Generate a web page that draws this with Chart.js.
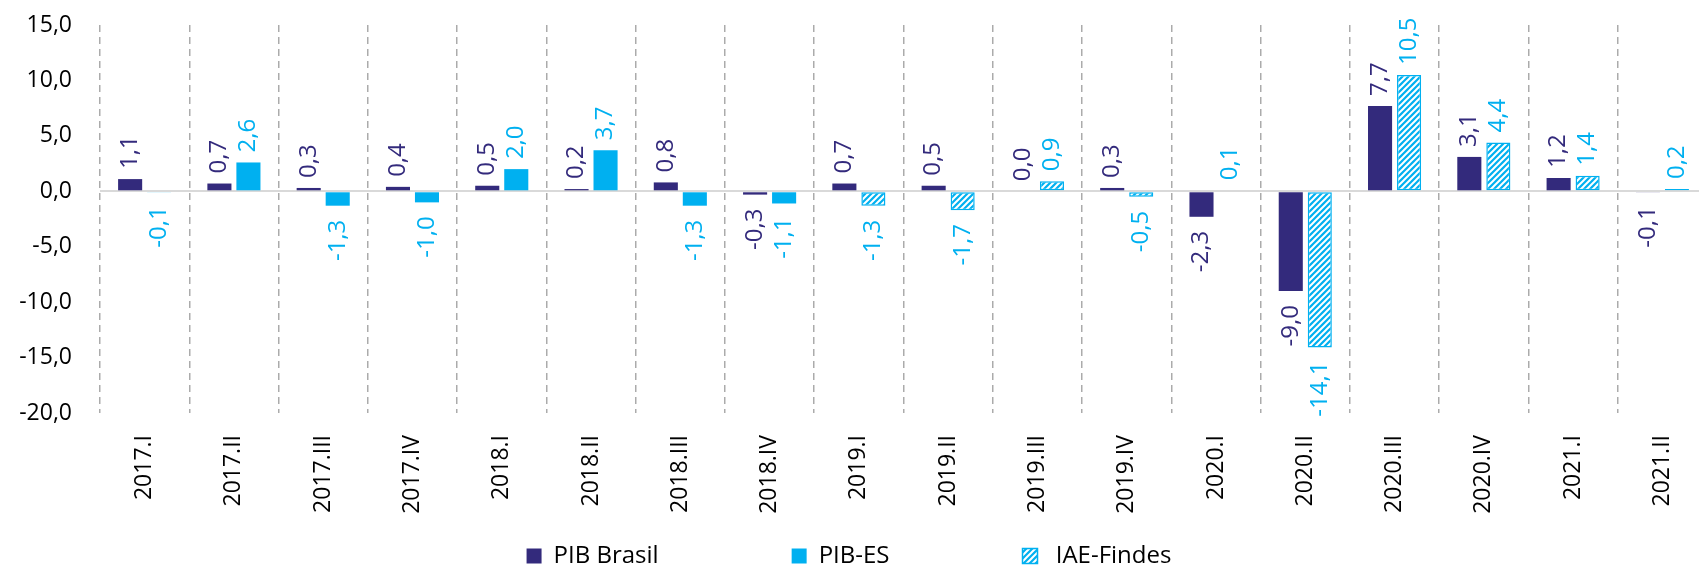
<!DOCTYPE html>
<html lang="pt-BR">
<head>
<meta charset="utf-8">
<title>PIB Brasil, PIB-ES e IAE-Findes</title>
<script src="https://cdn.jsdelivr.net/npm/chart.js@4.4.1/dist/chart.umd.min.js"></script>
<style>
  html, body { margin: 0; padding: 0; background: #fff; overflow: hidden; }
</style>
</head>
<body>
<canvas id="grafico" width="1712" height="570"></canvas>
<script>
// Dados (variação trimestral, %)
const trimestres = ["2017.I", "2017.II", "2017.III", "2017.IV", "2018.I", "2018.II", "2018.III", "2018.IV",
  "2019.I", "2019.II", "2019.III", "2019.IV", "2020.I", "2020.II", "2020.III", "2020.IV", "2021.I", "2021.II"];
const pibBrasil = [1.1, 0.7, 0.3, 0.4, 0.5, 0.2, 0.8, -0.3, 0.7, 0.5, 0.0, 0.3, -2.3, -9.0, 7.7, 3.1, 1.2, -0.1];
const pibES     = [-0.1, 2.6, -1.3, -1.0, 2.0, 3.7, -1.3, -1.1, null, null, null, null, null, null, null, null, null, null];
const iaeFindes = [null, null, null, null, null, null, null, null, -1.3, -1.7, 0.9, -0.5, 0.1, -14.1, 10.5, 4.4, 1.4, 0.2];
const eixoY = { min: -20, max: 15, passo: 5 };

const AZUL_ESCURO = "#332A7C";
const AZUL_CLARO  = "#00B0F0";
const FONTE = '"Open Sans", "Noto Sans", sans-serif';

// formato brasileiro: 1,1 / -0,3
function formatar(v) {
  return Number(v).toFixed(1).replace(".", ",");
}

// hachura diagonal branca sobre azul claro
function criarHachura() {
  const c = document.createElement("canvas");
  c.width = 6; c.height = 6;
  const g = c.getContext("2d");
  g.fillStyle = AZUL_CLARO;
  g.fillRect(0, 0, 6, 6);
  g.strokeStyle = "#fff";
  g.lineWidth = 2;
  g.beginPath();
  g.moveTo(-1, 7); g.lineTo(7, -1);
  g.moveTo(-4, 4); g.lineTo(4, -4);
  g.moveTo(2, 10); g.lineTo(10, 2);
  g.stroke();
  return g.createPattern(c, "repeat");
}

// rótulos de valor girados, acima/abaixo de cada barra
const rotulosPlugin = {
  id: "rotulos",
  afterDatasetsDraw(chart) {
    const ctx = chart.ctx;
    chart.data.datasets.forEach((ds, i) => {
      const meta = chart.getDatasetMeta(i);
      meta.data.forEach((barra, j) => {
        const v = ds.data[j];
        if (v === null || v === undefined) return;
        const p = barra.getProps(["x", "y", "base"], true);
        const negativo = v < 0;
        const y = negativo ? Math.max(p.y, p.base) + 14 : Math.min(p.y, p.base) - 10;
        ctx.save();
        ctx.font = "24px " + FONTE;
        ctx.fillStyle = ds.corRotulo;
        ctx.textBaseline = "middle";
        ctx.textAlign = negativo ? "right" : "left";
        ctx.translate(p.x, y);
        ctx.rotate(-Math.PI / 2);
        ctx.fillText(formatar(v), 0, 0);
        ctx.restore();
      });
    });
  }
};

// posiciona a legenda como no original
const LEGENDA_PADDING = 133;
const LEGENDA_FONTE = 24;
const legendaPlugin = {
  id: "legendaPos",
  afterLayout(chart) {
    const leg = chart.legend;
    const dx = -7;
    leg.left += dx; leg.right += dx;
    leg.top = 556 - LEGENDA_FONTE / 2 - LEGENDA_PADDING;
    leg.bottom = chart.height;
  }
};

new Chart(document.getElementById("grafico"), {
  type: "bar",
  data: {
    labels: trimestres,
    datasets: [
      {
        label: "PIB Brasil",
        data: pibBrasil,
        stack: "br",
        backgroundColor: AZUL_ESCURO,
        borderColor: AZUL_ESCURO,
        borderWidth: 0,
        corRotulo: AZUL_ESCURO
      },
      {
        label: "PIB-ES",
        data: pibES,
        stack: "es",
        backgroundColor: AZUL_CLARO,
        borderColor: AZUL_CLARO,
        borderWidth: 0,
        corRotulo: AZUL_CLARO
      },
      {
        label: "IAE-Findes",
        data: iaeFindes,
        stack: "es",
        backgroundColor: criarHachura(),
        borderColor: AZUL_CLARO,
        borderWidth: 1.5,
        borderSkipped: false,
        corRotulo: AZUL_CLARO
      }
    ]
  },
  options: {
    responsive: false,
    animation: false,
    categoryPercentage: 0.65,
    barPercentage: 0.83,
    layout: { padding: { top: 25, right: 0, bottom: 0, left: 0 } },
    plugins: {
      legend: {
        position: "bottom",
        maxHeight: 45,
        labels: {
          font: { family: FONTE, size: LEGENDA_FONTE },
          color: "#000",
          boxWidth: 15,
          boxHeight: 15,
          padding: LEGENDA_PADDING,
          generateLabels(chart) {
            const itens = Chart.defaults.plugins.legend.labels.generateLabels(chart);
            // no original há um espaço maior antes de "IAE-Findes"
            itens[2].text = " " + itens[2].text;
            return itens;
          }
        }
      },
      tooltip: { enabled: false }
    },
    scales: {
      x: {
        afterFit(scale) { scale.height = 112; },
        border: { display: false, dash: [7, 5] },
        grid: {
          offset: true,
          drawTicks: false,
          color: "#ABABAB",
          lineWidth: 1.5
        },
        ticks: {
          minRotation: 90,
          maxRotation: 90,
          padding: 22,
          color: "#000",
          font: { family: FONTE, size: 23 }
        }
      },
      y: {
        stacked: false,
        min: eixoY.min,
        max: eixoY.max,
        afterFit(scale) {
          scale.width = 100;
          scale.paddingTop = 0;
          scale.paddingBottom = 0;
        },
        border: { display: false },
        grid: {
          drawTicks: false,
          lineWidth: 2,
          color: ctx => (ctx.tick && ctx.tick.value === 0 ? "#D9D9D9" : "rgba(0,0,0,0)")
        },
        ticks: {
          stepSize: eixoY.passo,
          padding: 28,
          color: "#000",
          font: { family: FONTE, size: 23 },
          callback: v => formatar(v)
        }
      }
    }
  },
  plugins: [rotulosPlugin, legendaPlugin]
});
</script>
</body>
</html>
